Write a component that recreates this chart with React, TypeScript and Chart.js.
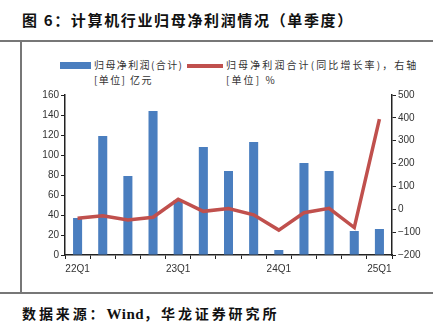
import React, { useEffect, useRef } from "react";
import { Chart, registerables } from "chart.js";

Chart.register(...registerables);

const categories = ["22Q1", "22Q2", "22Q3", "22Q4", "23Q1", "23Q2", "23Q3", "23Q4", "24Q1", "24Q2", "24Q3", "24Q4", "25Q1"];
const profitValues = [37, 119, 79, 144, 55, 108, 84, 113, 5, 92, 84, 24, 26];
const growthValues = [-39, -28, -47, -35, 44, -9, 3, -24, -91, -15, 4, -80, 394];
const shownLabels = ["22Q1", "23Q1", "24Q1", "25Q1"];

const CJK = '"Noto Sans CJK SC", "Noto Sans", sans-serif';
const TICK_FONT = { family: '"Liberation Sans", Arial, sans-serif', size: 10 };

export default function App() {
  const ref = useRef<HTMLCanvasElement | null>(null);

  useEffect(() => {
    if (!ref.current) return;
    const chart = new Chart(ref.current, {
      data: {
        labels: categories,
        datasets: [
          {
            type: "line",
            label: "growth",
            data: growthValues,
            yAxisID: "yR",
            borderColor: "#C0504D",
            backgroundColor: "#C0504D",
            borderWidth: 3.5,
            pointRadius: 0,
            tension: 0,
            order: 0,
          },
          {
            type: "bar",
            label: "profit",
            data: profitValues,
            yAxisID: "yL",
            backgroundColor: "#4A7EBF",
            borderWidth: 0,
            barPercentage: 0.36,
            categoryPercentage: 1,
            order: 1,
          },
        ],
      },
      options: {
        animation: false,
        responsive: false,
        maintainAspectRatio: false,
        layout: { padding: { top: 10, left: 0, right: 0, bottom: 0 } },
        plugins: { legend: { display: false }, tooltip: { enabled: false } },
        scales: {
          x: {
            offset: true,
            grid: { offset: true, drawOnChartArea: false, tickLength: 4, color: "#222", lineWidth: 1 },
            border: { color: "#222", width: 1.5 },
            ticks: {
              autoSkip: false,
              maxRotation: 0,
              padding: 4,
              color: "#333",
              font: TICK_FONT,
              callback: (_v: any, i: number) => (shownLabels.includes(categories[i]) ? categories[i] : ""),
            },
            afterFit: (s: any) => {
              s.height = 30;
            },
          },
          yL: {
            position: "left",
            min: 0,
            max: 160,
            grid: { drawOnChartArea: false, tickLength: 4, color: "#222" },
            border: { color: "#222", width: 1.5 },
            ticks: { stepSize: 20, color: "#333", font: TICK_FONT, padding: 2 },
            afterFit: (s: any) => {
              s.width = 45;
            },
          },
          yR: {
            position: "right",
            min: -200,
            max: 500,
            grid: { drawOnChartArea: false, tickLength: 4, color: "#222" },
            border: { color: "#222", width: 1.5 },
            ticks: {
              stepSize: 100,
              color: "#333",
              font: TICK_FONT,
              padding: 2,
              callback: (v: any) => (Number(v) < 0 ? "\u2212" + Math.abs(Number(v)) : String(v)),
            },
            afterFit: (s: any) => {
              s.width = 47;
            },
          },
        },
      },
    } as any);
    return () => chart.destroy();
  }, []);

  const abs = (s: React.CSSProperties): React.CSSProperties => ({ position: "absolute", ...s });

  return (
    <div style={abs({ left: 0, top: 0, width: 439, height: 325, background: "#fff", overflow: "hidden" })}>
      <div style={abs({ left: 22, top: 9, fontFamily: CJK, fontWeight: 700, fontSize: 15, letterSpacing: 1.65, color: "#111", whiteSpace: "nowrap" })}>
        图 6：计算机行业归母净利润情况（单季度）
      </div>
      <div style={abs({ left: 0, top: 40, width: 433, height: 1.5, background: "#777" })} />
      <div style={abs({ left: 20, top: 41, width: 1.5, height: 251, background: "#777" })} />
      <div style={abs({ left: 0, top: 292, width: 433, height: 1.5, background: "#777" })} />
      <div style={abs({ left: 60, top: 62, width: 31, height: 7, background: "#4A7EBF" })} />
      <div style={abs({ left: 94, top: 57, fontFamily: CJK, fontSize: 10, letterSpacing: 1.4, color: "#333", whiteSpace: "nowrap", lineHeight: "15px" })}>
        归母净利润(合计)
        <br />
        [单位] 亿元
      </div>
      <div style={abs({ left: 187, top: 64, width: 36, height: 3.5, background: "#C0504D" })} />
      <div style={abs({ left: 226, top: 57, fontFamily: CJK, fontSize: 10, letterSpacing: 2.1, color: "#333", whiteSpace: "nowrap", lineHeight: "15px" })}>
        归母净利润合计(同比增长率)，右轴
        <br />
        [单位] %
      </div>
      <canvas ref={ref} width={419} height={200} style={abs({ left: 20, top: 85, width: 419, height: 200 })} />
      <div style={abs({ left: 22, top: 303, fontFamily: CJK, fontWeight: 700, fontSize: 14, letterSpacing: 2.9, color: "#111", whiteSpace: "nowrap" })}>
        数据来源：<span style={{ fontFamily: '"Liberation Serif", serif', fontSize: 15, letterSpacing: 0.5 }}>Wind</span>，华龙证券研究所
      </div>
    </div>
  );
}
